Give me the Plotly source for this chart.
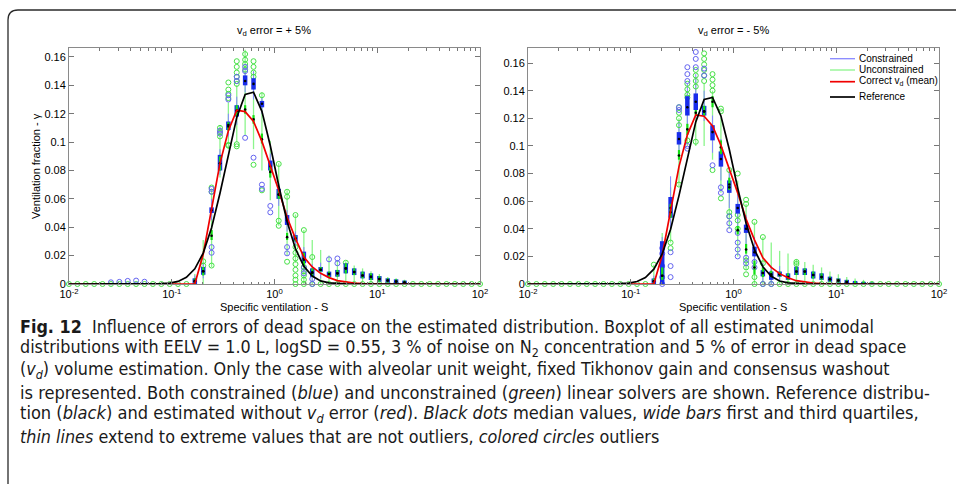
import plotly.graph_objects as go

# ---------------- data ----------------
S = [0.01, 0.01207, 0.01456, 0.01758, 0.02121, 0.0256, 0.03089, 0.03728, 0.04498, 0.05429,
     0.06551, 0.07906, 0.09541, 0.1151, 0.1389, 0.1677, 0.2024, 0.2442, 0.2947, 0.3556,
     0.4292, 0.5179, 0.6251, 0.7543, 0.9103, 1.099, 1.326, 1.6, 1.931, 2.33,
     2.812, 3.393, 4.095, 4.942, 5.964, 7.197, 8.685, 10.48, 12.65, 15.26,
     18.42, 22.23, 26.83, 32.37, 39.07, 47.15, 56.9, 68.66, 82.86, 100.0]
N = len(S)


def pad(start, vals):
    out = [0.0] * N
    for i, v in enumerate(vals):
        out[start + i] = v
    return out


reference = pad(10, [0.0001, 0.0002, 0.0006, 0.0018, 0.0047, 0.0107, 0.0218, 0.0396, 0.0640, 0.0919,
                     0.1174, 0.1336, 0.1351, 0.1217, 0.0974, 0.0694, 0.0440, 0.0248, 0.0125, 0.0056,
                     0.0022, 0.0008, 0.0003, 0.0001])
correct_vd = pad(15, [0.0, 0.021, 0.052, 0.085, 0.108, 0.1225, 0.1215, 0.1145, 0.1005, 0.084,
                      0.066, 0.047, 0.032, 0.019, 0.012, 0.0075, 0.0045, 0.0024, 0.0013, 0.0006, 0.0002])

# ---- panel 1 : v_d error = +5 % ----
p1_blue_q1 = pad(15, [0.000, 0.0065, 0.050, 0.080, 0.1085, 0.118, 0.140, 0.137, 0.1245, 0.080, 0.060, 0.0416, 0.030,
                      0.0146, 0.005, 0.0087, 0.005, 0.0052, 0.0075, 0.0063, 0.004, 0.0028, 0.0016, 0.001, 0.0005, 0.0002])
p1_blue_med = pad(15, [0.002, 0.009, 0.052, 0.085, 0.112, 0.122, 0.143, 0.141, 0.127, 0.083, 0.063, 0.045, 0.032,
                       0.018, 0.008, 0.010, 0.007, 0.0075, 0.011, 0.0085, 0.006, 0.005, 0.0035, 0.0025, 0.0018, 0.001])
p1_blue_q3 = pad(15, [0.004, 0.012, 0.054, 0.091, 0.1145, 0.126, 0.147, 0.145, 0.129, 0.087, 0.067, 0.0486, 0.0345,
                      0.0228, 0.011, 0.012, 0.0087, 0.0099, 0.0146, 0.011, 0.0087, 0.0075, 0.0056, 0.004, 0.0033, 0.0024])
p1_blue_lo = pad(15, [0, 0.004, 0.045, 0.077, 0.104, 0.112, 0.135, 0.130, 0.120, 0.075, 0.055, 0.037, 0.027, 0.010, 0.002, 0.004])
p1_blue_hi = pad(15, [0.006, 0.015, 0.060, 0.095, 0.120, 0.132, 0.150, 0.150, 0.131, 0.092, 0.071, 0.052, 0.037, 0.026, 0.014, 0.015])

p1_green_q1 = pad(15, [0.000, 0.006, 0.031, 0.080, 0.108, 0.118, 0.120, 0.113, 0.099, 0.075, 0.060, 0.031, 0.030,
                       0.012, 0.005, 0.0087, 0.005, 0.0052, 0.0075, 0.0063, 0.004, 0.0028, 0.0016, 0.001, 0.0005, 0.0002])
p1_green_med = pad(15, [0.002, 0.009, 0.034, 0.085, 0.111, 0.122, 0.123, 0.116, 0.102, 0.079, 0.063, 0.033, 0.032,
                        0.017, 0.008, 0.010, 0.007, 0.0075, 0.011, 0.0085, 0.006, 0.005, 0.0035, 0.0025, 0.0018, 0.001])
p1_green_q3 = pad(15, [0.004, 0.012, 0.038, 0.090, 0.114, 0.126, 0.126, 0.119, 0.106, 0.083, 0.066, 0.036, 0.034,
                       0.022, 0.011, 0.012, 0.0087, 0.0099, 0.0146, 0.011, 0.0087, 0.0075, 0.0056, 0.004, 0.0033, 0.0024])
p1_green_lo = pad(15, [0, 0, 0.012, 0.075, 0.095, 0.100, 0.105, 0.095, 0.080, 0.059, 0.041, 0.020, 0.015,
                       0, 0, 0, 0, 0, 0.002, 0.002, 0.001, 0, 0, 0, 0, 0])
p1_green_hi = pad(15, [0.007, 0.031, 0.066, 0.112, 0.128, 0.140, 0.165, 0.150, 0.135, 0.101, 0.085, 0.066, 0.049,
                       0.038, 0.031, 0.024, 0.020, 0.017, 0.016, 0.013, 0.011, 0.009, 0.007, 0.005, 0.004, 0.003])

p1_blue_out = {5: [0.0012], 6: [0.0015], 7: [0.0022], 8: [0.0024], 9: [0.0016],
               17: [0.026, 0.022, 0.067, 0.065], 18: [0.108, 0.106], 19: [0.133, 0.130],
               20: [0.146, 0.143], 21: [0.153, 0.150, 0.103], 22: [0.089], 23: [0.070, 0.067],
               24: [0.055, 0.0505], 26: [0.026, 0.0216], 28: [0.0115, 0.0075], 29: [0.0035, 0.0],
               31: [0.0174], 32: [0.018, 0.0146]}
p1_green_out = {0: [0], 1: [0], 2: [0], 3: [0], 4: [0], 5: [0], 6: [0], 7: [0], 8: [0], 9: [0],
                10: [0], 11: [0], 12: [0], 13: [0], 14: [0],
                16: [0.016, 0.013], 17: [0.068, 0.065, 0.013], 18: [0.110, 0.107, 0.104],
                19: [0.142, 0.137, 0.134, 0.131, 0.098, 0.0975],
                20: [0.157, 0.153, 0.149, 0.146, 0.143, 0.141, 0.0985, 0.097],
                21: [0.167, 0.162, 0.158, 0.155, 0.151], 22: [0.157, 0.153, 0.149, 0.146, 0.084],
                23: [0.133, 0.066], 25: [0.0846, 0.0446, 0.041], 26: [0.065, 0.0615, 0.0157],
                27: [0.0486, 0.026, 0.022, 0.018, 0.014, 0.010, 0.006, 0.003, 0.0],
                28: [0.038, 0.012, 0.009, 0.006, 0.003, 0.0], 29: [0.019, 0.0],
                30: [0], 31: [0], 32: [0], 33: [0.015, 0], 34: [0], 35: [0], 36: [0], 37: [0], 38: [0], 39: [0],
                40: [0], 41: [0], 42: [0], 43: [0], 44: [0], 45: [0], 46: [0], 47: [0], 48: [0], 49: [0]}

# ---- panel 2 : v_d error = -5 % ----
p2_blue_q1 = pad(15, [0.000, 0.000, 0.048, 0.101, 0.122, 0.126, 0.122, 0.104, 0.085, 0.066, 0.051, 0.037, 0.020, 0.0055,
                      0.003, 0.0053, 0.003, 0.0065, 0.0065, 0.004, 0.003, 0.0017, 0.001, 0.0005, 0.0003, 0.0002, 0.0])
p2_blue_med = pad(15, [0.002, 0.006, 0.055, 0.105, 0.128, 0.132, 0.125, 0.110, 0.0905, 0.070, 0.055, 0.040, 0.023, 0.008,
                       0.006, 0.007, 0.005, 0.009, 0.009, 0.0065, 0.005, 0.0035, 0.0025, 0.0015, 0.001, 0.0008, 0.0005])
p2_blue_q3 = pad(15, [0.004, 0.031, 0.063, 0.110, 0.136, 0.138, 0.129, 0.115, 0.096, 0.075, 0.058, 0.043, 0.027, 0.010,
                      0.009, 0.009, 0.0077, 0.0125, 0.0113, 0.009, 0.0077, 0.0053, 0.004, 0.003, 0.0022, 0.0015, 0.001])
p2_blue_lo = pad(15, [0, 0, 0.040, 0.095, 0.115, 0.120, 0.118, 0.095, 0.075, 0.055, 0.040, 0.028, 0.012, 0.002, 0, 0.002])
p2_blue_hi = pad(15, [0.006, 0.034, 0.078, 0.118, 0.145, 0.152, 0.140, 0.122, 0.105, 0.082, 0.065, 0.050, 0.034, 0.015, 0.013, 0.013])

p2_green_q1 = pad(15, [0.000, 0.003, 0.048, 0.090, 0.108, 0.122, 0.122, 0.128, 0.094, 0.068, 0.036, 0.022, 0.007, 0.005,
                       0.005, 0.0053, 0.003, 0.0065, 0.0065, 0.004, 0.003, 0.0017, 0.001, 0.0005, 0.0003, 0.0002, 0.0])
p2_green_med = pad(15, [0.002, 0.006, 0.052, 0.093, 0.112, 0.124, 0.125, 0.132, 0.099, 0.072, 0.039, 0.025, 0.012, 0.008,
                        0.007, 0.007, 0.005, 0.009, 0.009, 0.0065, 0.005, 0.0035, 0.0025, 0.0015, 0.001, 0.0008, 0.0005])
p2_green_q3 = pad(15, [0.004, 0.012, 0.058, 0.097, 0.116, 0.126, 0.129, 0.136, 0.104, 0.077, 0.042, 0.029, 0.017, 0.012,
                       0.0096, 0.009, 0.0077, 0.0125, 0.0113, 0.009, 0.0077, 0.0053, 0.004, 0.003, 0.0022, 0.0015, 0.001])
p2_green_lo = pad(15, [0, 0, 0.030, 0.071, 0.100, 0.100, 0.100, 0.090, 0.066, 0.040, 0.020, 0.010, 0, 0,
                       0, 0, 0, 0, 0.002, 0.002, 0.001, 0, 0, 0, 0, 0, 0])
p2_green_hi = pad(15, [0.014, 0.037, 0.070, 0.120, 0.140, 0.150, 0.145, 0.140, 0.120, 0.082, 0.075, 0.058, 0.045, 0.034,
                       0.030, 0.024, 0.022, 0.018, 0.016, 0.014, 0.012, 0.009, 0.007, 0.005, 0.004, 0.003, 0.002])

p2_blue_out = {16: [0.026, 0.022, 0.013, 0.005, 0.0], 17: [0.023, 0.013, 0.005], 18: [0.128, 0.126],
               19: [0.157, 0.152, 0.147, 0.100, 0.098], 20: [0.168, 0.163, 0.157], 21: [0.156, 0.151],
               22: [0.086], 23: [0.070, 0.066], 24: [0.049, 0.044, 0.039], 25: [0.037, 0.030, 0.025, 0.020],
               26: [0.019, 0.015], 27: [0.016, 0.012], 28: [0.0], 29: [0.0]}
p2_green_out = {0: [0], 1: [0], 2: [0], 3: [0], 4: [0], 5: [0], 6: [0], 7: [0], 8: [0], 9: [0],
                10: [0], 11: [0], 12: [0], 13: [0], 14: [0], 15: [0.014],
                17: [0.030, 0.026], 18: [0.128, 0.124, 0.120, 0.115, 0.072],
                19: [0.145, 0.141, 0.137, 0.135, 0.104], 20: [0.155, 0.151, 0.147, 0.143, 0.103],
                21: [0.167, 0.163, 0.159, 0.155, 0.151, 0.147], 22: [0.152, 0.148, 0.144, 0.140, 0.0825],
                23: [0.127, 0.125, 0.062], 24: [0.0825, 0.052, 0.049], 25: [0.080, 0.050, 0.046, 0.040],
                26: [0.061, 0.058, 0.017, 0.012, 0.007], 27: [0.045, 0.005, 0.0], 28: [0.034, 0.015, 0.0],
                29: [0], 30: [0], 31: [0], 32: [0.016, 0.0145, 0], 33: [0], 34: [0], 35: [0], 36: [0], 37: [0],
                38: [0], 39: [0], 40: [0], 41: [0], 42: [0], 43: [0], 44: [0], 45: [0], 46: [0], 47: [0],
                48: [0], 49: [0]}

x_tick_vals = [0.01, 0.1, 1, 10, 100]
x_tick_text = ["10<sup>-2</sup>", "10<sup>-1</sup>", "10<sup>0</sup>", "10<sup>1</sup>", "10<sup>2</sup>"]
y_tick_vals = [0, 0.02, 0.04, 0.06, 0.08, 0.1, 0.12, 0.14, 0.16]
y_tick_text = ["0", "0.02", "0.04", "0.06", "0.08", "0.1", "0.12", "0.14", "0.16"]
minor_vals = [m * 10 ** e for e in (-2, -1, 0, 1) for m in range(2, 10)]

# ---------------- style ----------------
W, H = 956, 484
FONT = "Liberation Sans, Arial, Helvetica, sans-serif"
CAP_FONT = "Liberation Sans Narrow, Arial Narrow, DejaVu Sans Condensed, sans-serif"
BLUE_BOX = "rgb(25,45,235)"
GREEN_BOX = "rgb(20,225,20)"
BLUE_WHISK = "rgb(135,135,255)"
GREEN_WHISK = "rgb(140,245,140)"
BLUE_CIRC = "rgb(100,100,240)"
GREEN_CIRC = "rgb(70,225,70)"


def segs(lo, hi, minlen=0.0):
    xs, ys = [], []
    for k in range(N):
        if hi[k] - lo[k] > minlen:
            xs += [S[k], S[k], None]
            ys += [lo[k], hi[k], None]
    return xs, ys


def outs(d):
    xs, ys = [], []
    for k, vals in d.items():
        for v in vals:
            xs.append(S[k])
            ys.append(v)
    return xs, ys


fig = go.Figure()


def add_panel(xa, ya, bq1, bmed, bq3, blo, bhi, gq1, gmed, gq3, glo, ghi, bout, gout):
    x, y = segs(glo, ghi)
    fig.add_trace(go.Scatter(x=x, y=y, mode="lines", line=dict(color=GREEN_WHISK, width=1.3),
                             xaxis=xa, yaxis=ya, showlegend=False, hoverinfo="skip"))
    x, y = segs(blo, bhi)
    fig.add_trace(go.Scatter(x=x, y=y, mode="lines", line=dict(color=BLUE_WHISK, width=1),
                             xaxis=xa, yaxis=ya, showlegend=False, hoverinfo="skip"))
    x, y = outs(gout)
    fig.add_trace(go.Scatter(x=x, y=y, mode="markers", cliponaxis=False,
                             marker=dict(symbol="circle-open", size=5, color=GREEN_CIRC, line=dict(width=1)),
                             xaxis=xa, yaxis=ya, showlegend=False))
    x, y = outs(bout)
    fig.add_trace(go.Scatter(x=x, y=y, mode="markers", cliponaxis=False,
                             marker=dict(symbol="circle-open", size=5, color=BLUE_CIRC, line=dict(width=1)),
                             xaxis=xa, yaxis=ya, showlegend=False))
    x, y = segs(bq1, bq3)
    fig.add_trace(go.Scatter(x=x, y=y, mode="lines", line=dict(color=BLUE_BOX, width=4.5),
                             xaxis=xa, yaxis=ya, showlegend=False))
    x, y = segs(gq1, gq3)
    fig.add_trace(go.Scatter(x=x, y=y, mode="lines", line=dict(color=GREEN_BOX, width=2.2),
                             xaxis=xa, yaxis=ya, showlegend=False))
    mx = [S[k] for k in range(N) if bq3[k] - bq1[k] > 0.002] + [S[k] for k in range(N) if gq3[k] - gq1[k] > 0.002]
    my = [bmed[k] for k in range(N) if bq3[k] - bq1[k] > 0.002] + [gmed[k] for k in range(N) if gq3[k] - gq1[k] > 0.002]
    fig.add_trace(go.Scatter(x=mx, y=my, mode="markers", marker=dict(color="black", size=2.6),
                             xaxis=xa, yaxis=ya, showlegend=False))
    fig.add_trace(go.Scatter(x=S, y=correct_vd, mode="lines", line=dict(color="rgb(240,0,0)", width=1.7),
                             xaxis=xa, yaxis=ya, showlegend=False))
    fig.add_trace(go.Scatter(x=S, y=reference, mode="lines", line=dict(color="black", width=1.7),
                             xaxis=xa, yaxis=ya, showlegend=False))


add_panel("x", "y", p1_blue_q1, p1_blue_med, p1_blue_q3, p1_blue_lo, p1_blue_hi,
          p1_green_q1, p1_green_med, p1_green_q3, p1_green_lo, p1_green_hi, p1_blue_out, p1_green_out)
add_panel("x2", "y2", p2_blue_q1, p2_blue_med, p2_blue_q3, p2_blue_lo, p2_blue_hi,
          p2_green_q1, p2_green_med, p2_green_q3, p2_green_lo, p2_green_hi, p2_blue_out, p2_green_out)


def px(x):
    return x / W


def py(y):
    return 1 - y / H


axis_common = dict(showgrid=False, zeroline=False, showline=True, linecolor="#8a8a8a", linewidth=1,
                   mirror="ticks", ticks="inside", ticklen=5, tickcolor="#777", automargin=False,
                   tickfont=dict(family=FONT, size=11, color="black"))
xcommon = dict(axis_common, type="log", range=[-2, 2], tickmode="array", tickvals=x_tick_vals,
               ticktext=x_tick_text,
               minor=dict(tickmode="array", tickvals=minor_vals, ticks="inside", ticklen=2.5,
                          tickcolor="#777", showgrid=False))
ycommon = dict(axis_common, tickmode="array", tickvals=y_tick_vals, ticktext=y_tick_text)

fig.update_layout(
    width=W, height=H, margin=dict(l=0, r=0, t=0, b=0, pad=0, autoexpand=False),
    paper_bgcolor="white", plot_bgcolor="white", showlegend=False,
    xaxis=dict(xcommon, domain=[px(69), px(480)], anchor="y"),
    yaxis=dict(ycommon, domain=[py(284), py(48)], range=[0, 0.1663], anchor="x"),
    xaxis2=dict(xcommon, domain=[px(528), px(939)], anchor="y2"),
    yaxis2=dict(ycommon, domain=[py(284), py(48)], range=[0, 0.1709], anchor="x2"),
)

ann = []


def text(x, y, s, size=11, xanchor="center", family=FONT, color="black", angle=0):
    ann.append(dict(x=px(x), y=py(y), xref="paper", yref="paper", text=s, showarrow=False,
                    xanchor=xanchor, yanchor="middle", textangle=angle,
                    font=dict(family=family, size=size, color=color)))


text(274, 31, "v<sub>d</sub> error = + 5%", 11)
text(733, 31, "v<sub>d</sub> error = - 5%", 11)
text(274, 307, "Specific ventilation - S", 11)
text(733, 307, "Specific ventilation - S", 11)
text(36, 166, "Ventilation fraction - γ", 11, angle=-90)

# legend (manual, inside right panel)
legend_items = [("Constrained", BLUE_WHISK, 1.3, 58.7), ("Unconstrained", GREEN_WHISK, 1.3, 70),
                ("Correct v<sub>d</sub> (mean)", "rgb(240,0,0)", 1.7, 81.7), ("Reference", "black", 1.7, 97)]
shapes = []
for label, col, wdt, yy in legend_items:
    shapes.append(dict(type="line", xref="paper", yref="paper", x0=px(830), x1=px(855), y0=py(yy), y1=py(yy),
                       line=dict(color=col, width=wdt)))
    text(857, yy - 0.5, label, 10, xanchor="left")

# frame
fx, fy, r = 8, 10, 10
shapes.append(dict(type="path", xref="paper", yref="paper",
                   path=f"M {px(fx)},{py(H)} L {px(fx)},{py(fy + r)} Q {px(fx)},{py(fy)} {px(fx + r)},{py(fy)} L {px(W)},{py(fy)}",
                   line=dict(color="#2a2a2a", width=1.3)))

caption = [
    "<b>Fig. 12</b>  Influence of errors of dead space on the estimated distribution. Boxplot of all estimated unimodal",
    "distributions with EELV = 1.0 L, logSD = 0.55, 3 % of noise on N<sub>2</sub> concentration and 5 % of error in dead space",
    "(<i>v<sub>d</sub></i>) volume estimation. Only the case with alveolar unit weight, fixed Tikhonov gain and consensus washout",
    "is represented. Both constrained (<i>blue</i>) and unconstrained (<i>green</i>) linear solvers are shown. Reference distribu-",
    "tion (<i>black</i>) and estimated without <i>v<sub>d</sub></i> error (<i>red</i>). <i>Black dots</i> median values, <i>wide bars</i> first and third quartiles,",
    "<i>thin lines</i> extend to extreme values that are not outliers, <i>colored circles</i> outliers",
]
cap_y = [326, 348, 370, 392, 414, 436]
cap_size = [17.8, 17.8, 17.8, 18.1, 18.1, 17.8]
for line, yy, fs in zip(caption, cap_y, cap_size):
    text(18, yy, line, fs, xanchor="left", family=CAP_FONT, color="#1a1a1a")

fig.update_layout(annotations=ann, shapes=shapes)
fig.write_html("out.html", config={"displayModeBar": False, "staticPlot": True},
               post_script="document.body.style.margin='0px';document.body.style.overflow='hidden';")
